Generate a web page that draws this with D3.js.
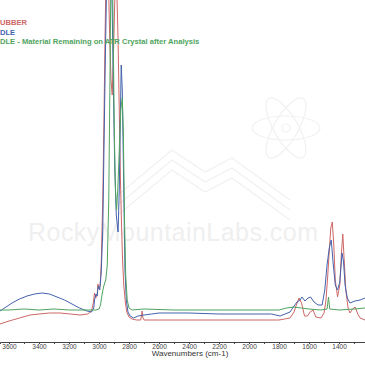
<!DOCTYPE html>
<html>
<head>
<meta charset="utf-8">
<script src="https://cdn.jsdelivr.net/npm/d3@7"></script>
<style>
  body { margin: 0; background: #fff; }
  svg { display: block; font-family: "Liberation Sans", Arial, sans-serif; }
</style>
</head>
<body>
<svg id="chart" width="365" height="365"></svg>
<script>
// FTIR spectra, [wavenumber cm-1, absorbance]
var rubber = [
  [3660,0.006],[3600,0.009],[3530,0.012],[3460,0.015],[3400,0.016],[3330,0.017],[3260,0.017],
  [3190,0.016],[3127,0.015],[3075,0.016],[3050,0.019],[3038,0.027],[3030,0.037],[3022,0.032],
  [3013,0.034],[3007,0.046],[3000,0.041],[2992,0.045],[2985,0.068],[2975,0.130],[2967,0.210],
  [2960,0.290],[2950,0.390],[2940,0.370],[2930,0.300],[2920,0.250],[2912,0.235],[2903,0.280],
  [2893,0.340],[2883,0.350],[2873,0.290],[2865,0.220],[2857,0.150],[2850,0.105],[2843,0.070],
  [2835,0.045],[2825,0.028],[2815,0.018],[2800,0.013],[2780,0.011],[2750,0.010],[2722,0.010],
  [2716,0.015],[2713,0.019],[2709,0.013],[2700,0.010],[2400,0.010],[2000,0.010],[1800,0.010],
  [1727,0.012],[1700,0.018],[1687,0.024],[1667,0.032],[1650,0.027],[1630,0.014],[1610,0.014],
  [1593,0.018],[1573,0.020],[1555,0.013],[1520,0.012],[1500,0.017],[1487,0.030],[1475,0.055],
  [1467,0.075],[1455,0.102],[1445,0.108],[1435,0.085],[1425,0.050],[1410,0.033],[1395,0.045],
  [1385,0.075],[1375,0.096],[1365,0.068],[1355,0.040],[1340,0.022],[1327,0.017],[1310,0.021],
  [1293,0.023],[1275,0.016],[1260,0.012],[1227,0.010]
];

var needle = [
  [3660,0.019],[3620,0.023],[3580,0.027],[3530,0.031],[3480,0.034],[3430,0.036],[3380,0.037],
  [3330,0.036],[3280,0.033],[3230,0.030],[3180,0.026],[3130,0.022],[3080,0.019],[3050,0.018],
  [3035,0.022],[3030,0.030],[3020,0.036],[3013,0.034],[3005,0.044],[2995,0.040],[2985,0.058],
  [2975,0.100],[2967,0.180],[2958,0.270],[2950,0.340],[2940,0.380],[2930,0.385],[2920,0.370],
  [2912,0.320],[2903,0.230],[2895,0.160],[2885,0.115],[2873,0.098],[2865,0.140],[2858,0.210],
  [2852,0.265],[2845,0.240],[2835,0.140],[2827,0.060],[2818,0.030],[2807,0.018],[2793,0.014],
  [2770,0.012],[2740,0.014],[2700,0.015],[2650,0.016],[2600,0.017],[2400,0.017],[2200,0.016],
  [2000,0.016],[1850,0.016],[1793,0.014],[1760,0.016],[1727,0.018],[1700,0.024],[1680,0.028],
  [1660,0.030],[1647,0.033],[1627,0.029],[1607,0.032],[1590,0.033],[1567,0.028],[1540,0.025],
  [1513,0.025],[1495,0.040],[1480,0.065],[1465,0.082],[1452,0.090],[1440,0.068],[1425,0.045],
  [1410,0.040],[1395,0.048],[1380,0.077],[1370,0.068],[1360,0.045],[1345,0.032],[1327,0.027],
  [1293,0.029],[1260,0.030],[1227,0.032]
];

var residue = [
  [3660,0.020],[3600,0.020],[3500,0.021],[3400,0.020],[3300,0.021],[3200,0.020],[3100,0.020],
  [3020,0.020],[3000,0.021],[2990,0.025],[2980,0.035],[2970,0.043],[2962,0.047],[2955,0.050],
  [2945,0.065],[2935,0.130],[2927,0.250],[2920,0.370],[2913,0.390],[2905,0.290],[2897,0.190],
  [2890,0.140],[2883,0.120],[2875,0.140],[2865,0.180],[2855,0.220],[2845,0.232],[2838,0.200],
  [2830,0.110],[2822,0.055],[2812,0.030],[2800,0.022],[2780,0.020],[2700,0.021],[2500,0.020],
  [2200,0.020],[2000,0.020],[1800,0.020],[1750,0.022],[1700,0.023],[1650,0.022],[1600,0.021],
  [1520,0.020],[1480,0.021],[1470,0.033],[1462,0.021],[1400,0.020],[1300,0.021],[1227,0.022]
];

var legendLabels = ["UBBER", "DLE", "DLE - Material Remaining on ATR Crystal after Analysis"];
var tickValues = d3.range(3600, 1227, -100);
var xTitle = "Wavenumbers (cm-1)";
var watermark = "RockyMountainLabs.com";

var colors = ["#cf6767", "#4363ad", "#4fa45e"];

var svg = d3.select("#chart");

var x = d3.scaleLinear().domain([3660, 1227]).range([0, 365]);
var y = d3.scaleLinear().domain([0, 0.33]).range([330, 0]);

/** faint watermark **/
var wm = svg.append("g").attr("fill", "none").attr("stroke", "#f1f1f1").attr("stroke-width", 1.2);
[0, 60, 120].forEach(function(a) {
  wm.append("ellipse")
    .attr("cx", 286).attr("cy", 128).attr("rx", 34).attr("ry", 12)
    .attr("transform", "rotate(" + a + ",286,128)");
});
wm.append("circle").attr("cx", 286).attr("cy", 128).attr("r", 4);
[0, 10, 20].forEach(function(o) {
  wm.append("polyline")
    .attr("points", [[118, 195 + o], [172, 150 + o], [205, 172 + o], [232, 158 + o], [290, 200 + o]].join(" "));
});

svg.append("text")
  .attr("x", 28).attr("y", 241)
  .attr("textLength", 290)
  .attr("font-size", 25)
  .attr("fill", "#efefef")
  .text(watermark);

/** spectra **/
var line = d3.line()
  .x(function(d) { return x(d[0]); })
  .y(function(d) { return y(d[1]); });

[rubber, needle, residue].forEach(function(s, i) {
  svg.append("path")
    .datum(s)
    .attr("d", line)
    .attr("fill", "none")
    .attr("stroke", colors[i])
    .attr("stroke-width", 1)
    .attr("stroke-linejoin", "round");
});

/** x axis **/
var axis = svg.append("g")
  .attr("transform", "translate(0,342)")
  .call(d3.axisBottom(x)
    .tickValues(tickValues)
    .tickSize(2)
    .tickFormat(function(d) { return d % 200 === 0 ? d : ""; }));

axis.select(".domain").attr("stroke", "#444").attr("stroke-width", 1);
axis.selectAll(".tick line").attr("stroke", "#444");
axis.selectAll(".tick text")
  .attr("y", 2)
  .attr("font-size", 6.5)
  .attr("fill", "#444")
  .attr("font-family", "Liberation Sans, Arial, sans-serif");

svg.append("text")
  .attr("x", 190).attr("y", 356)
  .attr("text-anchor", "middle")
  .attr("font-size", 8)
  .attr("fill", "#333")
  .text(xTitle);

/** legend, flush with the left edge **/
svg.selectAll(".legend")
  .data(legendLabels)
  .enter().append("text")
  .attr("class", "legend")
  .attr("x", 0)
  .attr("y", function(d, i) { return 25 + i * 9.5; })
  .attr("font-size", 7.6)
  .attr("font-weight", "bold")
  .attr("fill", function(d, i) { return colors[i]; })
  .text(function(d) { return d; });
</script>
</body>
</html>
